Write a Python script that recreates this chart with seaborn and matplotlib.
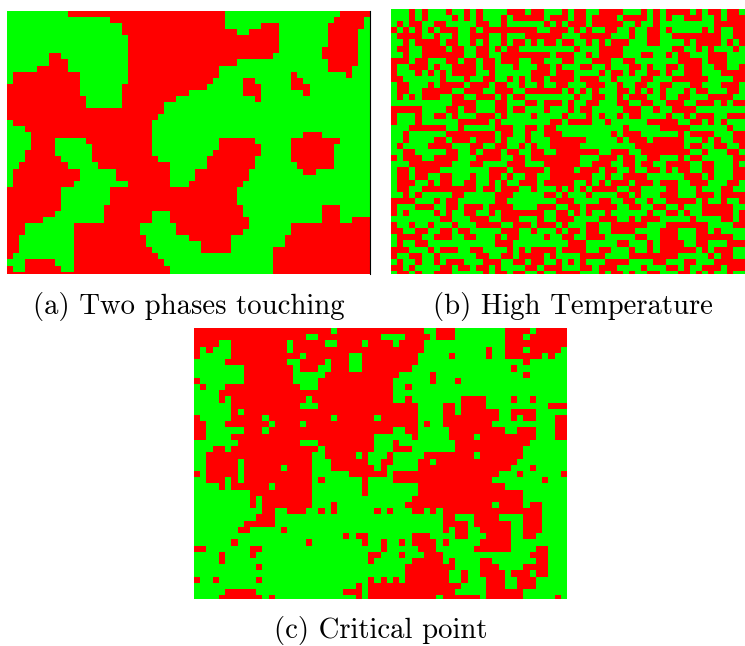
from __future__ import annotations

import matplotlib

matplotlib.use("Agg")
import matplotlib.colors as mcolors
import matplotlib.pyplot as plt
import numpy as np
import pandas as pd
import seaborn as sns

# Red cells per row, written as column ranges (everything else is green)
PHASES_RED = [
    "10-35 55-59", "17-35 54-58", "19-35 42-44 53-58", "19-37 40-44 53-57",
    "20-44 53-57", "20-44 53-57", "20-44 52-57", "7-8 20-43 52-57",
    "7-9 20-37 53-57", "5-9 20-34 53-56", "1-11 20-34 47 56", "1-11 20-33 39-40 47-48",
    "0-11 19-32 39-41 47-49", "0-11 19-29 39-41 49", "0-12 19-27 41", "0-12 19-25",
    "0-25", "0-24", "1-23", "3-23",
    "4-23 49-51", "4-7 13-23 35-40 47-54", "4-7 14-23 35-41 47-53", "3-7 14-23 34-41 47-53",
    "3-8 14-24 33-40 47-53", "2-9 15-26 33-40 48-53", "1-11 18-26 31-39 49-50", "1-11 18-26 31-39",
    "1-10 20-26 30-38", "0-8 17-37", "0-8 17-37", "0-8 17-37",
    "0-8 16-38 52-54", "0-7 16-23 27-38 52-54", "0-5 16-23 27-39 52-54 57-59", "0-2 11-21 28-39 47-59",
    "0-2 11-21 28-38 47-59", "0-1 11-22 30-36 46-59", "0-1 11-22 32-36 46-59", "0-1 11-23 32-36 44-59",
    "0 11-24 44-59", "3-7 11-25 44-59", "0 3-8 11-26 44-59", "0-26 44-59",
]

HIGH_TEMP_ROWS = [
    "GGGRGRGGGRGGRGRGGGGRRRGRRGGGR" "GRRGGRRRRGGGRGRGRRRRGRGRRGRRG",
    "GGGRGRGGGGRGRGRGGGRGRRRRRGRRR" "GRRGRRRRGRRRRGRGRGGRRRGGRGRRR",
    "GRGRRGGRRGGGGGRRGGRGGGGGGRGRG" "RRRGRRRRRGGRGGRGGGGGGGGGRRRRR",
    "RGRGRGRGRRRGGRGRRRRRRRRRGGRRR" "GRGRGGRRGGRGGRRGRGGGGGRGRGGRR",
    "GRRRRGGRGGRGGRRRGGRGGGRRRRRRG" "GGRRRRRGGGRGGRRGGRRRRRRRRGGRR",
    "GGRGRRRRGRRGGRGRGGRGRRGRGRRGR" "RGGRGRGRRRGGGRRGGGGRGRRRRGRGR",
    "GRRGGRRRRGRRGGRRGRGRRGGGGGGGG" "GRGGGRRRRGGGGGGGGRRGGRGRGGGRG",
    "GGRGGRRRRRRRGGRRGGRRRRRRRRGRR" "RGGRGRRRRGGGRRGGRGRRGGGRRRGGG",
    "RRRGRRGGGRRGRRGRRGRRRGGRRGGGR" "RGGGRRRGGRRGGGGGGGRRRRGRRRGGG",
    "RGGRRRGRGGRRRRGRRGGGRGGGRRGRG" "GGRRGGRGGGRRGRGGRRGRRRGGRRGGR",
    "RGGGRGRGRGRRRRGGRGGGGGGRRRGRR" "RGGGGRGRRGRGGRRGRGGRRRGGGRRRR",
    "RRGGGGGGRGGGRGGRRGGRGRGRRGRRR" "RGRRRGGRGGGGRRGGGRRRRRRGGGGRR",
    "GRRGGGRGRRRRGRRRGRRGGRGGRGGRR" "GGGRRRGGRGGRRGGRRGGGRRGGGRRRG",
    "GRRGGRRRRRGGRRRGGRRRGGRRRRRRG" "RGRGRGGGRRGRGRGRGGGRGRRGGGRRG",
    "GRGRGRRRGGRRGGRRRGRGRRGGGGGGG" "GRGGRRGGRGRRRGGRGGRRGGGRRRRGG",
    "GGGGGGGGGGRRRRGGGRRGGGRRGRRRG" "RGGRRGGGRRGGRRGGRRRGGRRRGRGRR",
    "RRRRRGGGGRRGRRGGGRRGRRGGGRGGG" "RGRRGGGGGRRRGGRGGRRRRGGGGGGGG",
    "RGGGRGGRRGRGGGRRRGRGGGGRGGGGR" "GGGRGRGGRGRRGGGGRGGRGRRRGGRRR",
    "RGGGRGGGGGGRRRRRGRGGGGGGGGRRG" "RRRRGGRGGGGGGRRRRRGGRRGRGRGGG",
    "GGGRRRRRRGGRGGGGGRRRGGRRGRRGG" "GGGGGGGGGRGGGGGRRRRRGGGGGGRGG",
    "GGRGGGGGGRRRRRRRRGRRGGRGGRRRG" "GGGGGGGRGRRRGGGGGGRGRRRRGGGRR",
    "GGRGGGGRRGRRRGRRRGRGGGRGGGRRR" "RRRGGGGGRGRRRGRRRRRGGGRGRGGRR",
    "GRGGGGRRRRGGGRRGGRRGGRGRGGRRR" "RRGGGGGGGGGRRRRRRRRGRRGGRRGGR",
    "GGRRGGGGGRRGGRGRRRGRRGGRRGGRR" "RRRRRGGRRRGGRRRRRRRRGGRGGGRRG",
    "RGRRRGGRRRRGGGRRRRGGRRGRRRRRR" "RRGGGRRRGRRGGRRGGGRGRRGGGGGRR",
    "GGGRRRRRRRGGGRRGGGGRRRGGGRRRR" "RRGGRRRGGRRGRRGGRRRRGGRRGGGRG",
    "GRRGRRRRGGGGGGGGRRRGRRRRRGRRR" "RGRRRGRRGGRGGRRGRGRRGGRRGGGRR",
    "GRRGRRGGRRGGGRGGRRGRGGRRGGRRR" "RRRRGGRGGRRRRGGGGGGRRRGRGGGRR",
    "GRRRGGRGRRGGRRGGRGRGGRRRGRRRR" "RGGRGRGRRRGRRRGRRRGGRRRGGGRRG",
    "GRRGGRRRRRRRRRGRRGRRRGGRGGGRG" "RGRGRRRRGGRRGGGGRRGGGRGGGRRGG",
    "GGRGRGGGGGRRGGGGGRRRGGGGGRRGR" "GGGRGGGGRRGRGGGRRRGGGRRRGRRRR",
    "RRRRGGGRGRRGGGGGGRRGGGGGGGGRR" "RGGGGRRGGRRGGRGGRRRRRGRGGRGGR",
    "RGGGRRRGGRRGRRRGRRRRGGGGRRRGG" "RRGRRRRRGGRRGGRRGGRGGGRRRRRGG",
    "RGRGGGGRGRGGRRGGRGRRRRRRRGGRR" "GRGRGGRGGGGGGRGGRRGRGGRRRRRGR",
    "GGGGGGGGRRGGGRRRGGRRRGGGRGGRR" "RGGGGRRRGGRGRRRGGGGGRGGGGRRGR",
    "RGGRGGRGGGRGGGRRRRGGRRRGRRRGR" "GGGRRGGRRRRRRGGGRRRRRRRGGGGRR",
    "RRGGRRGGRRGRRGGGGGRRRGGRGGGRG" "RRGRRGGRRRRGGGGRRRGGGRRGRGGGG",
    "GRRRRGGRRRGGRRGGGRGRRGGGGRGGR" "RGGRRRGGGGGRRGGRRRGGGRRRRRRGG",
    "GRGGRRGGGGGGGGGGGRRRGGGGGGGGG" "RRRGGGGGRRGGGRGRRRRGGRRGGGRRR",
    "RRRGGGRGRRRGGRRGGGGRGRGRRRRGR" "RRRGGRRGGGRGGRGRRRRRRGRGRRRGG",
    "RGGRRGGRGGGGGGRRGGRRGRRRRGRGG" "GGRRRRGGGGRRRRRRRRGGGGGRGRRGG",
    "GRGGRGGRGRRRGGGRRRGGRRGRRGGRG" "RGRGGGRRRRGGGGRRGGGRRGGGRRRRR",
    "RRGRGGGGRRGRRGRRGRGGGGRRGRRRG" "GGRRGRRRGGGGRGGGRRGRGGRRRGRRR",
    "GRRGRGGRRRGGGGGRGRRGRRGGRGGRR" "RRGGGRGRRGRGGRRGGGRRGRGRGGRGG",
]

CRITICAL_RED = [
    "0-21 23-36 39-41 50-53 55-59", "0-17 20-29 34-37 39-41 50-52 54-59",
    "0-3 6-14 16-20 23-26 28-31 33-36 50-59", "0 2 6-14 16-36 47 50-52 54-58",
    "0 6-16 18-24 27-35 41 47 50-55 57", "5-14 17-20 22-24 27-35 53",
    "8-15 17-19 22-24 27-34 51", "8-15 21-32 38 53",
    "0 8-15 20-31 38 42", "1 5-16 20-31 34",
    "4-31", "4 6-17 19-31 34 43-46 51 54",
    "6-16 20-35 40-41 43-46 57-59", "6 8-35 40-41 43-48 51-54",
    "0 6-10 12-21 23-28 30-35 40-48 51 53-54 58-59", "0-1 5-11 13-16 18-35 37 40-47 58-59",
    "0-1 8-10 12-31 34-35 41-49 52-54 58-59", "0-1 6-28 35 41-44 46-54 58-59",
    "7-16 20-28 32 42-53", "3-4 6-19 21-28 32-34 42-52",
    "2-18 21-25 27 31 37-44 46-52", "2-6 8-18 22-27 30-31 36-37 39-51",
    "2-6 8-13 15-18 22-28 30 36-50 54", "0 2-6 8-18 25-30 32-48 52 59",
    "2-4 6 8-18 20 27 32-47 56", "4 6-11 13-18 27 36-49",
    "9-18 27 36-52", "9 11-18 35-52",
    "9 11-18 22 34-47 49-52 54-55", "11-12 15-17 20 22 29 31 35-36 38 40-55",
    "10-12 40-41 45-48 53-55", "8-12 40-43 45-50 53-55",
    "7-8 14 40 42-43 46-50 53-55", "24 26-27 35-37 42-43 47-50 53-54",
    "6 18 27 30 33 35-38 40 46-50", "0-1 9-10 30 36-38 45-50 55-56",
    "4 9 28-29 33 37-39 54-56", "4 28 35-39 41 46-47 55-56",
    "10 34-41 46-48 53-56", "34-40 43 46-49 51-53 55-56",
    "0 3 10 28 30 32 34-40 43 47-49 52-54", "26 28-42 47-49 52-54",
    "5-9 24-26 28-41 47-52", "4-10 12 26 28-38 40-45 47-52 58",
]

CAPTIONS = ["(a) Two phases touching", "(b) High Temperature", "(c) Critical point"]


def ranges_to_grid(rows, n_cols=60):
    grid = np.zeros((len(rows), n_cols), dtype=int)
    for i, row in enumerate(rows):
        for part in row.split():
            lo, _, hi = part.partition("-")
            grid[i, int(lo): int(hi or lo) + 1] = 1
    return grid


def letters_to_grid(rows, n_cols=58):
    return np.array([[1 if ch == "R" else 0 for ch in row[:n_cols]] for row in rows])


def draw_panel(fig, grid, left, top, right, bottom, n_rows_shown):
    W, H = 745, 646
    ax = fig.add_axes([left / W, 1 - bottom / H, (right - left) / W, (bottom - top) / H])
    df = pd.DataFrame(grid)
    sns.heatmap(df, cmap=cmap, vmin=0, vmax=1, cbar=False, xticklabels=False, yticklabels=False, ax=ax)
    ax.set_ylim(n_rows_shown, 0)
    ax.tick_params(length=0)
    return ax


cmap = mcolors.ListedColormap(["#00FF00", "#FF0000"])

sns.set_theme(style="white")
plt.rcParams["font.family"] = ["cmr10", "DejaVu Serif"]
plt.rcParams["axes.formatter.use_mathtext"] = True

fig = plt.figure(figsize=(7.45, 6.46), dpi=100, facecolor="#FFFFFF")

ax_a = draw_panel(fig, ranges_to_grid(PHASES_RED), 7, 11, 370, 274, 43.4)
ax_a.spines["right"].set_visible(True)
ax_a.spines["right"].set_color("#000000")
ax_a.spines["right"].set_linewidth(0.8)

draw_panel(fig, letters_to_grid(HIGH_TEMP_ROWS), 391, 9, 745, 274, 43.5)
draw_panel(fig, ranges_to_grid(CRITICAL_RED), 194, 328, 567, 599, 43.6)

fig.text(189 / 745, 1 - 306 / 646, CAPTIONS[0], fontsize=20.7, ha="center", va="center", color="#000000")
fig.text(572.5 / 745, 1 - 306 / 646, CAPTIONS[1], fontsize=20.7, ha="center", va="center", color="#000000")
fig.text(380.5 / 745, 1 - 630 / 646, CAPTIONS[2], fontsize=20.7, ha="center", va="center", color="#000000")

fig.savefig("out.png", dpi=100, facecolor="#FFFFFF")
plt.close(fig)
